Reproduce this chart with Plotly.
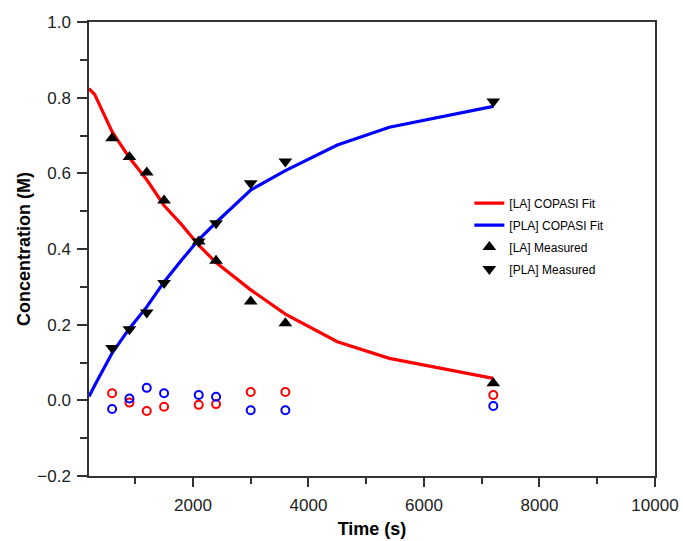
import plotly.graph_objects as go

# Fit curves
fit_time = [200, 300, 600, 900, 1200, 1500, 1800, 2100, 2400, 3000, 3600, 4500, 5400, 7200]
la_fit = [0.824, 0.808, 0.710, 0.641, 0.583, 0.515, 0.465, 0.410, 0.364, 0.292, 0.228, 0.155, 0.111, 0.058]
pla_fit = [0.010, 0.040, 0.125, 0.190, 0.247, 0.313, 0.370, 0.425, 0.470, 0.556, 0.607, 0.675, 0.722, 0.777]

# Measured data
meas_time = [600, 900, 1200, 1500, 2100, 2400, 3000, 3600, 7200]
la_meas = [0.693, 0.643, 0.602, 0.528, 0.420, 0.369, 0.261, 0.204, 0.045]
pla_meas = [0.138, 0.188, 0.232, 0.310, 0.420, 0.468, 0.574, 0.631, 0.790]

# Residuals
la_resid = [0.0185, -0.006, -0.028, -0.017, -0.012, -0.010, 0.022, 0.022, 0.014]
pla_resid = [-0.023, 0.005, 0.033, 0.0185, 0.014, 0.0095, -0.026, -0.026, -0.015]

# Tick labels
x_tickvals = [2000, 4000, 6000, 8000, 10000]
x_ticktext = ["2000", "4000", "6000", "8000", "10000"]
x_minor_tickvals = [1000, 3000, 5000, 7000, 9000]

fig = go.Figure()
fig.add_trace(go.Scatter(x=fit_time, y=la_fit, mode="lines", name="[LA] COPASI Fit", legendgroup="g1",
                         line=dict(color="#FF0000", width=3.2)))
fig.add_trace(go.Scatter(x=fit_time, y=pla_fit, mode="lines", name="[PLA] COPASI Fit", legendgroup="g2",
                         line=dict(color="#0000FF", width=3.2)))
fig.add_trace(go.Scatter(x=meas_time, y=la_meas, mode="markers", name="[LA] Measured", legendgroup="g3",
                         marker=dict(symbol="triangle-up", size=12, color="black")))
fig.add_trace(go.Scatter(x=meas_time, y=pla_meas, mode="markers", name="[PLA] Measured", legendgroup="g4",
                         marker=dict(symbol="triangle-down", size=12, color="black")))
fig.add_trace(go.Scatter(x=meas_time, y=la_resid, mode="markers", showlegend=False, legendgroup="g5",
                         marker=dict(symbol="circle-open", size=8, color="#FF0000",
                                     line=dict(width=2, color="#FF0000"))))
fig.add_trace(go.Scatter(x=meas_time, y=pla_resid, mode="markers", showlegend=False, legendgroup="g6",
                         marker=dict(symbol="circle-open", size=8, color="#0000FF",
                                     line=dict(width=2, color="#0000FF"))))

axis_common = dict(showgrid=False, zeroline=False, showline=True, linecolor="#333",
                   linewidth=1.5, mirror=True, ticks="outside", tickcolor="#333",
                   tickwidth=1.5, automargin=False,
                   tickfont=dict(family="Liberation Sans, Arial", size=17, color="#222"))

fig.update_xaxes(range=[200, 10000], tickvals=x_tickvals, ticktext=x_ticktext, ticklen=9,
                 ticklabelstandoff=4,
                 minor=dict(tickvals=x_minor_tickvals, ticks="outside", ticklen=6,
                            tickcolor="#333", tickwidth=1.5),
                 title=dict(text="<b>Time (s)</b>", font=dict(family="Liberation Sans, Arial", size=18, color="black"),
                            standoff=8),
                 **axis_common)
fig.update_yaxes(range=[-0.2, 1.0], tick0=0, dtick=0.2, tickformat=".1f", ticklen=10,
                 ticklabelstandoff=3,
                 minor=dict(dtick=0.1, ticks="outside", ticklen=7, tickcolor="#333", tickwidth=1.5),
                 title=dict(text="<b>Concentration (M)</b>", font=dict(family="Liberation Sans, Arial", size=18, color="black"),
                            standoff=2),
                 **axis_common)

fig.update_layout(
    width=683, height=541,
    margin=dict(l=89, r=28, t=22, b=65, autoexpand=False),
    plot_bgcolor="white", paper_bgcolor="white",
    legend=dict(x=0.672, y=0.633, xanchor="left", yanchor="top",
                font=dict(family="Liberation Sans, Arial", size=12, color="black"),
                bgcolor="rgba(0,0,0,0)", tracegroupgap=3, traceorder="grouped"),
)

fig.write_html("out.html", config={"displayModeBar": False},
               post_script="document.body.style.margin='0';document.body.style.overflow='hidden';")
